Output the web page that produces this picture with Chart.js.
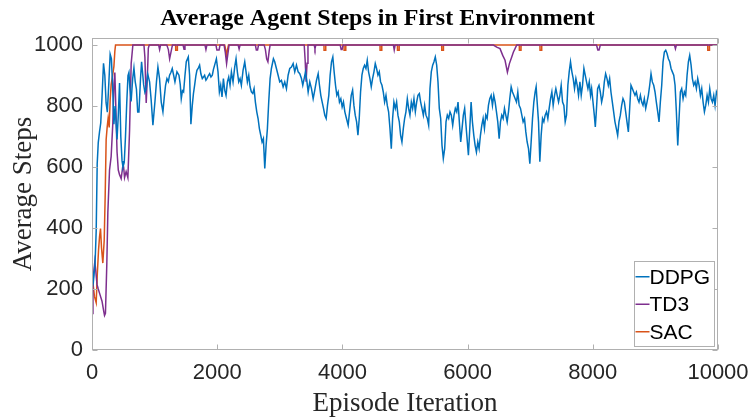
<!DOCTYPE html>
<html>
<head>
<meta charset="utf-8">
<script src="https://cdn.jsdelivr.net/npm/chart.js@4.4.1/dist/chart.umd.min.js"></script>
<style>
  html, body { margin: 0; padding: 0; background: #ffffff; }
  #wrap { width: 755px; height: 419px; }
</style>
</head>
<body>
<div id="wrap"><canvas id="c" width="755" height="419"></canvas></div>
<script>
// ---------------- data ----------------
const chartTitle = 'Average Agent Steps in First Environment';
const xAxisTitle = 'Episode Iteration';
const yAxisTitle = 'Average Steps';
const seriesNames = ['DDPG', 'TD3', 'SAC'];
const xTickValues = [0, 2000, 4000, 6000, 8000, 10000];
const yTickValues = [0, 200, 400, 600, 800, 1000];

// [episode, average steps]
const ddpgPoints = [
[0,1000],[4,260],[24,228],[50,290],[67,390],[83,610],[100,680],[120,715],[140,745],[160,830],[184,940],[205,900],[225,810],[245,780],[270,880],[290,970],[310,955],[330,860],[350,740],[370,800],[400,690],[420,770],[440,875],[460,700],[480,620],[495,600],[515,615],[535,700],[555,810],[575,900],[590,910],[605,860],[625,815],[650,890],[670,925],[690,880],[710,855],[730,780],[750,780],[775,890],[792,945],[805,915],[825,870],[845,845],[866,857],[890,905],[920,879],[945,820],[973,737],[1005,813],[1030,880],[1053,928],[1079,890],[1106,813],[1133,781],[1155,830],[1175,868],[1197,890],[1220,880],[1239,901],[1260,910],[1282,923],[1305,900],[1325,879],[1340,895],[1357,912],[1389,901],[1410,870],[1426,824],[1445,850],[1463,846],[1485,900],[1506,945],[1538,961],[1559,901],[1580,740],[1602,802],[1620,840],[1639,868],[1660,900],[1676,917],[1700,925],[1719,934],[1740,905],[1762,890],[1780,895],[1799,901],[1820,885],[1836,890],[1860,900],[1879,906],[1900,895],[1922,901],[1940,920],[1959,934],[1987,955],
[2013,912],[2035,846],[2056,868],[2077,830],[2099,890],[2120,852],[2141,835],[2163,879],[2184,895],[2205,868],[2227,912],[2253,879],[2280,928],[2301,955],[2322,912],[2344,879],[2365,890],[2386,868],[2413,917],[2440,945],[2461,912],[2482,879],[2504,901],[2525,863],[2546,846],[2568,841],[2589,857],[2610,813],[2632,781],[2653,759],[2674,726],[2696,704],[2717,682],[2738,693],[2760,595],[2781,671],[2802,726],[2823,813],[2845,890],[2866,923],[2898,955],[2919,945],[2946,923],[2973,901],[2999,879],[3026,884],[3053,863],[3079,879],[3106,857],[3133,901],[3159,923],[3186,928],[3213,939],[3239,912],[3266,934],[3293,912],[3319,906],[3346,890],[3367,868],[3389,890],[3410,912],[3431,884],[3453,846],[3479,879],[3506,857],[3533,824],[3559,852],[3586,884],[3613,906],[3634,868],[3655,835],[3677,813],[3698,792],[3719,770],[3741,759],[3762,802],[3783,835],[3804,901],[3826,945],[3847,961],[3868,912],[3890,868],[3911,835],[3932,846],[3953,813],[3975,824],[3996,797],[4017,813],[4039,781],[4065,759],[4092,737],
[4120,792],[4141,835],[4163,852],[4184,802],[4205,770],[4227,748],[4248,704],[4269,759],[4290,846],[4312,901],[4333,923],[4354,934],[4376,923],[4397,950],[4418,912],[4440,890],[4461,863],[4482,890],[4504,912],[4525,939],[4546,923],[4568,901],[4589,912],[4610,879],[4632,868],[4653,846],[4674,813],[4696,835],[4717,802],[4738,781],[4760,726],[4781,660],[4802,759],[4823,813],[4845,792],[4866,813],[4887,770],[4909,748],[4930,704],[4951,682],[4973,726],[4994,759],[5015,781],[5037,824],[5058,792],[5079,770],[5101,813],[5122,792],[5143,824],[5165,781],[5186,813],[5207,835],[5229,841],[5250,813],[5271,792],[5293,770],[5314,802],[5335,770],[5357,759],[5378,737],[5399,857],[5420,912],[5442,934],[5463,945],[5484,961],[5506,934],[5527,879],[5548,792],[5570,759],[5591,671],[5612,628],[5634,660],[5655,748],[5676,770],[5698,759],[5719,781],[5740,770],[5762,737],[5783,770],[5804,792],[5826,781],[5847,813],[5868,748],[5890,682],[5911,726],[5932,770],[5953,792],
[5987,704],[6013,639],[6035,726],[6056,813],[6077,748],[6099,704],[6120,671],[6141,649],[6163,682],[6184,660],[6205,704],[6227,737],[6248,759],[6269,726],[6290,770],[6312,759],[6333,802],[6354,824],[6376,835],[6397,802],[6418,835],[6440,813],[6461,781],[6482,748],[6504,693],[6525,748],[6546,770],[6568,759],[6589,792],[6610,770],[6632,748],[6653,781],[6674,824],[6696,863],[6717,846],[6738,835],[6760,824],[6781,813],[6802,846],[6823,802],[6845,792],[6866,770],[6887,748],[6909,759],[6930,715],[6951,682],[6973,660],[6994,611],[7015,682],[7037,759],[7058,813],[7079,846],[7095,863],[7111,813],[7133,748],[7154,617],[7175,704],[7197,759],[7218,748],[7239,770],[7261,781],[7282,759],[7303,792],[7325,824],[7346,846],[7367,802],[7389,835],[7410,857],[7431,835],[7453,813],[7474,835],[7495,868],[7517,813],[7538,802],[7559,748],[7580,770],[7602,868],[7623,912],[7644,945],[7666,912],[7687,890],[7708,857],[7730,890],[7751,868],[7772,835],[7794,879],[7815,835],[7836,868],[7858,923],[7879,901],[7900,879],[7922,857],[7943,879],[7964,835],
[7981,857],[8003,813],[8024,770],[8040,731],[8056,781],[8077,857],[8099,868],[8120,846],[8141,813],[8163,835],[8184,879],[8205,906],[8227,890],[8248,868],[8269,890],[8290,846],[8312,813],[8333,781],[8354,748],[8376,726],[8397,704],[8418,748],[8440,770],[8461,802],[8482,824],[8504,813],[8525,781],[8546,748],[8568,715],[8589,792],[8610,868],[8632,857],[8653,846],[8674,835],[8696,846],[8717,824],[8738,813],[8760,835],[8781,813],[8802,802],[8823,824],[8845,792],[8866,813],[8887,835],[8909,868],[8930,906],[8951,879],[8973,868],[8994,846],[9015,813],[9037,781],[9058,748],[9079,813],[9101,868],[9122,945],[9143,977],[9165,983],[9186,972],[9207,955],[9229,945],[9250,923],[9271,912],[9293,901],[9314,868],[9335,781],[9357,671],[9378,759],[9399,846],[9420,857],[9442,824],[9463,846],[9484,835],[9506,901],[9527,945],[9548,966],[9570,934],[9591,890],[9612,868],[9634,879],[9655,857],[9676,890],[9698,868],[9719,835],[9740,857],[9762,813],[9783,781],[9804,802],[9826,835],[9847,813],[9868,857],[9890,824],[9911,813],[9932,835],[9953,802],[9975,846],[9996,835],[10000,830]
];

const td3Points = [
[0,120],[15,220],[30,260],[45,290],[60,260],[80,215],[100,200],[130,180],[160,160],[185,130],[200,113],[215,120],[237,285],[253,450],[280,590],[306,635],[333,745],[350,870],[365,910],[380,800],[400,650],[420,590],[440,575],[466,562],[490,600],[505,600],[520,565],[545,585],[573,565],[600,720],[626,940],[653,1000],
[830,1000],[845,960],[866,810],[885,900],[900,990],[915,1000],
[1065,1000],[1080,985],[1095,1000],
[1195,1000],[1220,985],[1240,955],[1260,975],[1285,1000],
[1455,1000],[1470,986],[1485,1000],
[1805,1000],[1820,985],[1835,1000],
[1980,1000],[1995,984],[2030,984],[2045,1000],
[2110,1000],[2130,975],[2150,939],[2170,970],[2190,1000],
[2335,1000],[2350,987],[2365,1000],
[2610,1000],[2625,984],[2645,984],[2660,1000],
[2750,1000],[2770,985],[2790,955],[2810,945],[2830,980],[2845,1000],
[3390,1000],[3405,950],[3420,880],[3435,940],[3450,1000],
[3550,1000],[3562,988],[3575,1000],
[3965,1000],[3980,985],[3995,985],[4010,1000],
[4815,1000],[4828,984],[4842,1000],
[6412,1000],[6465,993],[6518,988],[6561,966],[6598,950],[6636,911],[6668,939],[6705,961],[6732,977],[6758,988],[6785,1000],
[8060,1000],[8080,984],[8100,984],[8120,1000],
[9305,1000],[9320,988],[9335,1000],
[10000,1000]
];

const sacPoints = [
[0,255],[20,210],[40,175],[67,155],[85,250],[105,330],[120,370],[136,398],[152,335],[173,285],[195,360],[210,500],[226,690],[242,730],[258,760],[275,730],[290,820],[306,870],[333,905],[350,930],[365,980],[376,1000],
[1336,1000],[1337,983],[1363,983],[1364,1000],
[2120,1000],[2135,985],[2150,966],[2165,985],[2180,1000],
[3706,1000],[3707,983],[3733,983],[3734,1000],
[4026,1000],[4027,983],[4053,983],[4054,1000],
[4601,1000],[4602,983],[4628,983],[4629,1000],
[4879,1000],[4880,983],[4906,983],[4907,1000],
[5586,1000],[5587,983],[5613,983],[5614,1000],
[6826,1000],[6827,983],[6853,983],[6854,1000],
[7156,1000],[7157,983],[7183,983],[7184,1000],
[9836,1000],[9837,983],[9863,983],[9864,1000],
[10000,1000]
];

const seriesColors = ['#0072BD', '#7E2F8E', '#D95319'];

// ---------------- chart ----------------
const toXY = pts => pts.map(p => ({ x: p[0], y: p[1] }));
const allPoints = [ddpgPoints, td3Points, sacPoints];

const framePlugin = {
  id: 'matlabFrame',
  afterDatasetsDraw(chart) {
    const { ctx, chartArea: a, scales } = chart;
    const L = Math.round(a.left) + 0.5, R = Math.round(a.right) - 0.5;
    const T = Math.round(a.top) + 0.5, B = Math.round(a.bottom) - 0.5;
    ctx.save();
    ctx.strokeStyle = '#b0b0b0';
    ctx.lineWidth = 1;
    ctx.strokeRect(L, T, R - L, B - T);
    const len = 5;
    ctx.beginPath();
    scales.x.ticks.forEach(t => {
      const px = Math.round(scales.x.getPixelForValue(t.value)) + 0.5;
      ctx.moveTo(px, B); ctx.lineTo(px, B - len);
      ctx.moveTo(px, T); ctx.lineTo(px, T + len);
    });
    scales.y.ticks.forEach(t => {
      const py = Math.round(scales.y.getPixelForValue(t.value)) + 0.5;
      ctx.moveTo(L, py); ctx.lineTo(L + len, py);
      ctx.moveTo(R, py); ctx.lineTo(R - len, py);
    });
    ctx.stroke();
    ctx.restore();
  },
  afterDraw(chart) {
    const { ctx, chartArea: a, width } = chart;
    ctx.save();
    // title, centred on the whole figure
    ctx.font = 'bold 24px "Liberation Serif", "Times New Roman", serif';
    ctx.fillStyle = '#000000';
    ctx.textAlign = 'center';
    ctx.textBaseline = 'middle';
    ctx.fillText(chartTitle, width / 2, 18.5);

    // legend box in the lower-right corner of the axes
    ctx.font = '21px "Liberation Sans", Arial, sans-serif';
    const rowH = 27.5;
    const sample = 14;
    const textW = Math.max(...chart.data.datasets.map(d => ctx.measureText(d.label).width));
    const w = sample + 1 + textW + 5;
    const h = rowH * chart.data.datasets.length + 3;
    const right = Math.round(a.right) - 3.5;
    const bottom = Math.round(a.bottom) - 3.5;
    const left = Math.round(right - w) + 0.5;
    const top = Math.round(bottom - h) + 0.5;
    ctx.fillStyle = '#ffffff';
    ctx.fillRect(left, top, right - left, bottom - top);
    ctx.strokeStyle = '#b0b0b0';
    ctx.lineWidth = 1;
    ctx.strokeRect(left, top, right - left, bottom - top);
    ctx.textBaseline = 'middle';
    ctx.textAlign = 'left';
    chart.data.datasets.forEach((d, i) => {
      const cy = top + 1.5 + rowH * (i + 0.5);
      ctx.strokeStyle = d.borderColor;
      ctx.lineWidth = 1.5;
      ctx.beginPath();
      ctx.moveTo(left + 1, cy); ctx.lineTo(left + 1 + sample, cy);
      ctx.stroke();
      ctx.fillStyle = '#000000';
      ctx.fillText(d.label, left + 1 + sample, cy + 1);
    });
    ctx.restore();
  }
};

new Chart(document.getElementById('c'), {
  type: 'line',
  data: {
    datasets: seriesNames.map((name, i) => ({
      label: name,
      data: toXY(allPoints[i]),
      borderColor: seriesColors[i],
      backgroundColor: seriesColors[i],
      borderWidth: 1.5,
      pointRadius: 0,
      tension: 0,
      fill: false
    }))
  },
  options: {
    responsive: false,
    animation: false,
    devicePixelRatio: 1,
    events: [],
    parsing: false,
    layout: { padding: { left: 0, right: 37, top: 38, bottom: 0 } },
    plugins: {
      legend: { display: false },
      tooltip: { enabled: false },
      title: { display: false }
    },
    scales: {
      x: {
        type: 'linear',
        min: 0,
        max: 10000,
        grid: { display: false, drawTicks: false },
        border: { display: false },
        afterBuildTicks: s => { s.ticks = xTickValues.map(v => ({ value: v })); },
        afterFit: s => { s.height = 69; },
        ticks: {
          color: '#262626',
          font: { family: '"Liberation Sans", Arial, sans-serif', size: 22, lineHeight: 1.55 },
          padding: 6,
          maxRotation: 0,
          callback: v => String(v)
        },
        title: {
          display: true,
          text: xAxisTitle,
          color: '#262626',
          font: { family: '"Liberation Serif", "Times New Roman", serif', size: 27 },
          padding: { top: 0, bottom: -1 }
        }
      },
      y: {
        type: 'linear',
        min: 0,
        max: 1023,
        grid: { display: false, drawTicks: false },
        border: { display: false },
        afterBuildTicks: s => { s.ticks = yTickValues.map(v => ({ value: v })); },
        afterFit: s => { s.width = 92; },
        ticks: {
          color: '#262626',
          font: { family: '"Liberation Sans", Arial, sans-serif', size: 22 },
          padding: 9,
          callback: v => String(v)
        },
        title: {
          display: true,
          text: yAxisTitle,
          color: '#262626',
          font: { family: '"Liberation Serif", "Times New Roman", serif', size: 27 },
          padding: { top: 8, bottom: 0 }
        }
      }
    }
  },
  plugins: [framePlugin]
});
</script>
</body>
</html>
